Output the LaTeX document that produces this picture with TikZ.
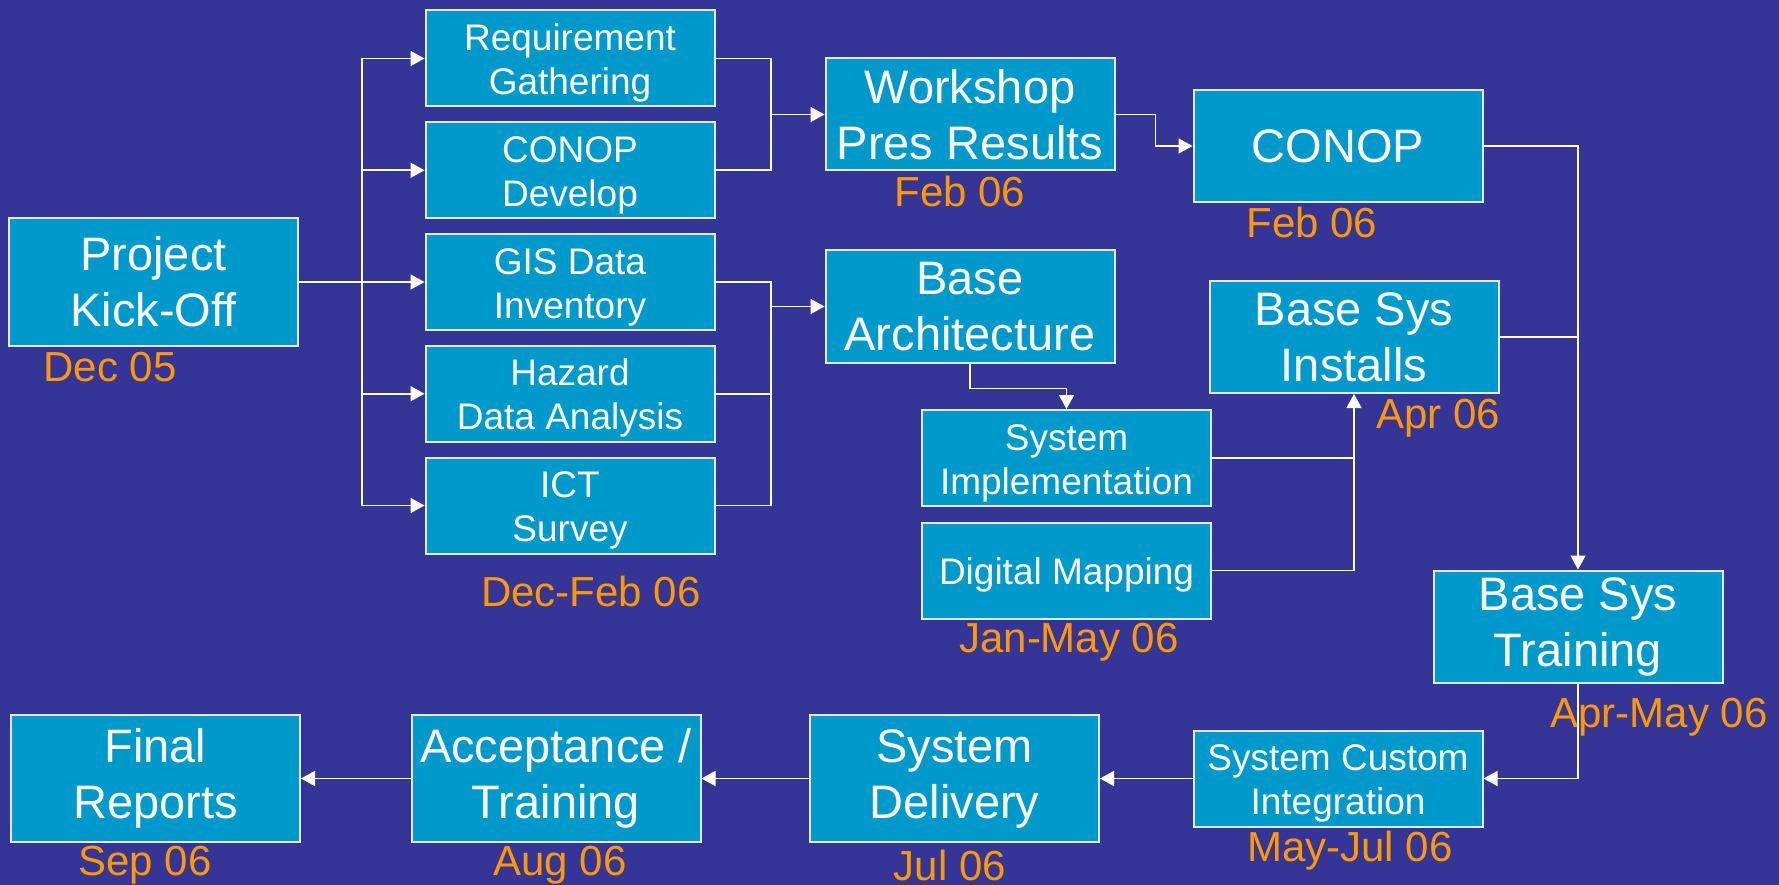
\documentclass[tikz,border=0pt]{standalone}
\usepackage{fontspec}
\setmainfont{Liberation Sans}
\usetikzlibrary{arrows.meta,positioning,calc}

\definecolor{bgblue}{RGB}{53,53,151}
\definecolor{boxblue}{RGB}{0,153,204}
\definecolor{edgewhite}{RGB}{232,232,242}
\definecolor{dateorange}{RGB}{255,153,0}

\newcommand{\bigboxfont}{\fontsize{47}{56}\selectfont}
\newcommand{\smallboxfont}{\fontsize{37}{44}\selectfont}
\newcommand{\datefont}{\fontsize{42}{48}\selectfont}
\newcommand{\lift}{\rule{0pt}{36pt}}

\begin{document}
\begin{tikzpicture}[x=1pt,y=-1pt,
  task/.style={rectangle, draw=edgewhite, line width=2pt, fill=boxblue, text=white, inner sep=0pt,
    minimum width=289pt, minimum height=96pt, align=center, font=\smallboxfont},
  bigtask/.style={task, minimum height=112pt, font=\bigboxfont},
  date/.style={text=dateorange, font=\datefont, inner sep=0pt},
  link/.style={draw=white, line width=1.5pt},
  arr/.style={link, -{Triangle[length=14pt,width=15pt]}}]

\fill[bgblue] (0,0) rectangle (1779,885);
\useasboundingbox (0,0) rectangle (1779,885);

%Nodes
\node[bigtask] (kick)  at (153.5,282)  [minimum height=128pt] {Project\\Kick-Off};
\node[task]    (req)   at (570,58.5)   {\lift Requirement\\Gathering};
\node[task]    (cdev)  [below=13.75pt of req]  {\lift CONOP\\Develop};
\node[task]    (gis)   [below=13.75pt of cdev] {\lift GIS Data\\Inventory};
\node[task]    (haz)   [below=13.75pt of gis]  {\lift Hazard\\Data Analysis};
\node[task]    (ict)   [below=13.75pt of haz]  {\lift ICT\\Survey};
\node[bigtask] (wshop) at (970,114.5)  {Workshop\\Pres Results};
\node[bigtask] (arch)  at (970,306.5)  {Base\\Architecture};
\node[bigtask] (conop) at (1338,146)   {CONOP};
\node[bigtask] (inst)  at (1354,337)   {Base Sys\\Installs};
\node[task]    (impl)  at (1066.5,458) {\lift System\\Implementation};
\node[task]    (map)   [below=14.5pt of impl] {\lift Digital Mapping};
\node[bigtask] (train) at (1578,626.5) {Base Sys\\Training};
\node[task]    (cust)  at (1338,778.5) {\lift System Custom\\Integration};
\node[bigtask] (deliv) [left=92.5pt of cust,minimum height=127pt]  {System\\Delivery};
\node[bigtask] (accept)[left=107.5pt of deliv,minimum height=127pt] {Acceptance /\\Training};
\node[bigtask] (final) [left=109.5pt of accept,minimum height=127pt] {Final\\Reports};

%Dates
\node[date] (dkick)  at (110,367)   {Dec 05};
\node[date] (dsurv)  at (591,591)   {Dec-Feb 06};
\node[date] (dwshop) at (960,191)   {Feb 06};
\node[date] (dconop) at (1312,222)  {Feb 06};
\node[date] (dinst)  at (1438,418)  {Apr 06};
\node[date] (dmap)   at (1069,642)  {Jan-May 06};
\node[date] (dtrain) at (1659,717)  {Apr-May 06};
\node[date] (dcust)  at (1350,851)  {May-Jul 06};
\node[date] (ddeliv) at (950,865)   {Jul 06};
\node[date] (dacc)   at (560,865)   {Aug 06};
\node[date] (dfinal) at (145,865)   {Sep 06};

\coordinate (fork) at (362,0);
\coordinate (merge) at (771,0);

%Lines
\draw[link, line width=2.5pt] (kick.east) -- (kick.east -| fork);
\draw[link] (req.west -| fork) -- (ict.west -| fork);
\foreach \t in {req,cdev,gis,haz,ict}
  \draw[arr] (\t.west -| fork) -- (\t.west);

\draw[link] (req.east) -- (req.east -| merge) -- (cdev.east -| merge) -- (cdev.east);
\draw[arr] (wshop.west -| merge) -- (wshop.west);
\draw[link] (gis.east) -- (gis.east -| merge) -- (ict.east -| merge) -- (ict.east);
\draw[link] (haz.east) -- (haz.east -| merge);
\draw[arr] (arch.west -| merge) -- (arch.west);

\draw[arr] (wshop.east) -- ++(40,0) |- (conop.west);
\draw[arr] (conop.east) -| (train.north);
\draw[link] (inst.east) -- (inst.east -| train.north);
\draw[arr] (arch.south) -- ++(0,25) -| (impl.north);
\draw[link] (impl.east) -- (impl.east -| inst.south);
\draw[arr] (map.east) -| (inst.south);

\draw[arr] (train.south) |- (cust.east);
\draw[arr] (cust.west) -- (deliv.east);
\draw[arr] (deliv.west) -- (accept.east);
\draw[arr] (accept.west) -- (final.east);

\end{tikzpicture}
\end{document}
